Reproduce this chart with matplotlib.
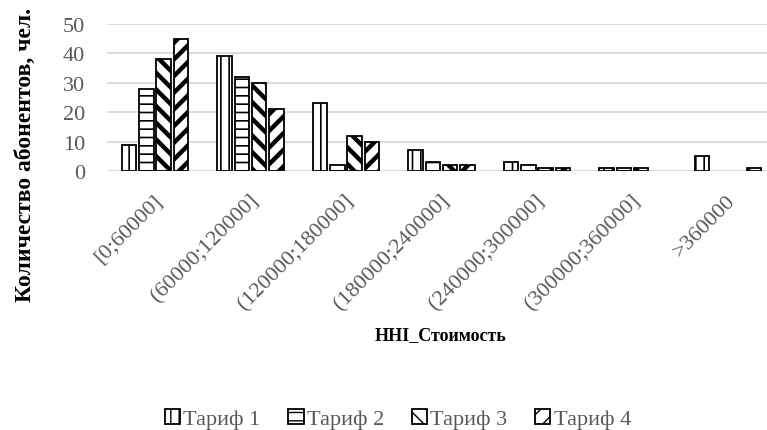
import numpy as np
import matplotlib.pyplot as plt
import matplotlib.transforms as mtransforms

# chart values
categories = ['[0;60000]', '(60000;120000]', '(120000;180000]', '(180000;240000]',
              '(240000;300000]', '(300000;360000]', '>360000']
tariff_1 = [9, 39, 23, 7, 3, 1, 5]
tariff_2 = [28, 32, 2, 3, 2, 1, 0]
tariff_3 = [38, 30, 12, 2, 1, 1, 0]
tariff_4 = [45, 21, 10, 2, 1, 0, 1]
series_names = ['Тариф 1', 'Тариф 2', 'Тариф 3', 'Тариф 4']

plt.rcParams['font.family'] = ['Liberation Serif', 'DejaVu Serif']

fig = plt.figure(figsize=(7.67, 4.31), dpi=100)
# plot area runs a little past the right edge of the picture, like the source
ax = fig.add_axes([107.25 / 767, 1 - 172 / 431, 668.5 / 767, 147 / 431])

x = np.arange(len(categories))
width = 0.152
step = 0.181
hatches = ['||', '--', '\\\\', '//']
hatch_lw = [1.2, 1.2, 3.2, 3.2]
series = [tariff_1, tariff_2, tariff_3, tariff_4]

handles = []
for i, (vals, name) in enumerate(zip(series, series_names)):
    with plt.rc_context({'hatch.linewidth': hatch_lw[i]}):
        bars = ax.bar(x + (i - 1.5) * step, vals, width, facecolor='white',
                      edgecolor='black', linewidth=1.3, hatch=hatches[i],
                      label=name, zorder=3)
        for b in bars:
            if hasattr(b, 'set_hatch_linewidth'):
                b.set_hatch_linewidth(hatch_lw[i])
            if b.get_height() == 0:
                b.set_visible(False)
    handles.append(bars)

ax.set_xlim(-0.5, len(categories) - 0.5)
ax.set_ylim(0, 50)
ax.set_yticks(range(0, 51, 10))
ax.yaxis.grid(True, color='#d9d9d9', linewidth=1.3, zorder=0)
ax.set_axisbelow(True)
for s in ['top', 'right', 'left', 'bottom']:
    ax.spines[s].set_visible(False)
ax.tick_params(axis='both', length=0, labelsize=16, labelcolor='#595959')
ax.tick_params(axis='y', pad=16)

ax.set_xticks(x)
ax.set_xticklabels(categories, rotation=45, ha='right', va='center',
                   rotation_mode='anchor')
ax.tick_params(axis='x', pad=19)
shift = mtransforms.ScaledTranslation(0.05, 0, fig.dpi_scale_trans)
for lbl in ax.get_xticklabels():
    lbl.set_transform(lbl.get_transform() + shift)

fig.text(25 / 767, 1 - 155 / 431, 'Количество абонентов, чел.', fontsize=17,
         fontweight='bold', rotation=90, ha='center', va='center')

fig.text(441 / 767, 1 - 336 / 431, 'HHI_Стоимость', fontsize=13,
         fontweight='bold', ha='center', va='center')

leg = fig.legend(handles=handles, labels=series_names, loc='center',
                 bbox_to_anchor=(398 / 767, 1 - 420 / 431), ncol=4,
                 frameon=False, fontsize=16, handlelength=0.68,
                 handleheight=0.68, handletextpad=0.15, columnspacing=1.25,
                 borderpad=0)
for t in leg.get_texts():
    t.set_color('#595959')

fig.savefig('out.png', dpi=100)
